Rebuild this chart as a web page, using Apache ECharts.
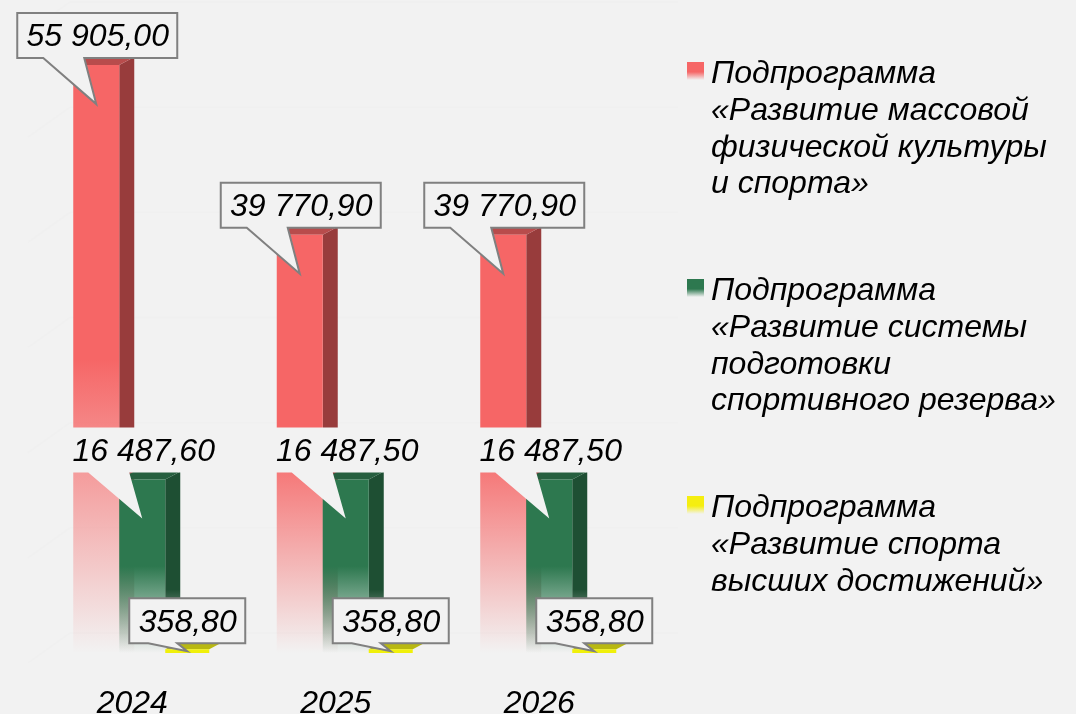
<!DOCTYPE html>
<html><head><meta charset="utf-8">
<style>html,body{margin:0;padding:0;background:#f2f2f2}#c{width:1076px;height:714px}</style>
<script src="https://cdn.jsdelivr.net/npm/echarts@6/dist/echarts.min.js"></script>
</head><body><div id="c"></div>
<script>
const categories = ['2024', '2025', '2026'];
const massSport = [55905.00, 39770.90, 39770.90];
const reserve = [16487.60, 16487.50, 16487.50];
const highSport = [358.80, 358.80, 358.80];
const gridTicks = [0, 10000, 20000, 30000, 40000, 50000, 60000];
const legendLines = [
  ['Подпрограмма', '«Развитие массовой', 'физической культуры', 'и спорта»'],
  ['Подпрограмма', '«Развитие системы', 'подготовки', 'спортивного резерва»'],
  ['Подпрограмма', '«Развитие спорта', 'высших достижений»']
];

const FONT = '"Liberation Sans", Arial, sans-serif';
const BG = '#f2f2f2';
const LH = 36.6;
const fmt = v => {
  const [a, b] = v.toFixed(2).split('.');
  return a.replace(/\B(?=(\d{3})+$)/g, ' ') + ',' + b;
};
const rgba = (h, a) => {
  const n = parseInt(h.slice(1), 16);
  return `rgba(${n >> 16},${(n >> 8) & 255},${n & 255},${a})`;
};
const fade = (h, start) => ({
  type: 'linear', x: 0, y: 0, x2: 0, y2: 1,
  colorStops: [{ offset: 0, color: rgba(h, 1) }, { offset: start, color: rgba(h, 1) }, { offset: 1, color: rgba(h, 0) }]
});

const STEP = 46, DX = 15, DY = 8;
function barSeries(name, values, k, look) {
  return {
    type: 'custom', name, coordinateSystem: 'cartesian2d', clip: false,
    encode: { x: 0, y: 1 }, z: 2 + k,
    itemStyle: { color: look.front },
    data: values.map((v, i) => [i, v]),
    renderItem(params, api) {
      const v = api.value(1);
      const cx = api.coord([api.value(0), 0])[0];
      const base = api.coord([0, 0])[1];
      const y = api.coord([0, v])[1];
      const x = cx - 59 + STEP * k;
      const W = look.width;
      const kids = [];
      if (look.fade) {
        kids.push({ type: 'polygon', shape: { points: [[x + W, y], [x + W + DX, y - DY], [x + W + DX, base], [x + W, base]] },
          style: { fill: fade(look.side, 0.65) } });
      }
      kids.push({ type: 'polygon', shape: { points: [[x, y], [x + W, y], [x + W + DX, y - DY], [x + DX, y - DY]] },
        style: { fill: look.top } });
      kids.push({ type: 'rect', shape: { x, y, width: W, height: base - y },
        style: { fill: look.fade ? fade(look.front, 0.5) : look.front } });
      const c = look.call;
      const t = y + c.top, b = y + c.bottom;
      const box = [[x + c.l, t], [x + c.r, t], [x + c.r, b], [x + c.p2, b], [x + c.tx, y + c.ty], [x + c.p1, b], [x + c.l, b]];
      kids.push({ type: 'polygon', shape: { points: box },
        style: { fill: BG, stroke: c.border ? '#808080' : null, lineWidth: c.border ? 2 : 0, lineJoin: 'miter' } });
      kids.push({ type: 'text', style: { x: x + (c.l + c.r) / 2 + 0.5, y: (t + b) / 2 + 2, text: fmt(v),
        font: `italic 32px ${FONT}`, fill: '#000', align: 'center', verticalAlign: 'middle' } });
      return { type: 'group', children: kids };
    }
  };
}

const looks = [
  { width: 46, front: '#f66666', side: '#983c3c', top: '#b84c4c', fade: true,
    call: { l: -56, r: 104, top: -52, bottom: -7, p1: -30, p2: 11, tx: 23, ty: 39, border: true } },
  { width: 46, front: '#2d784f', side: '#1e4f33', top: '#265f3f', fade: true,
    call: { l: -56, r: 104, top: -52, bottom: -7, p1: -31, p2: 10, tx: 23, ty: 39, border: false } },
  { width: 44, front: '#f0f00a', side: '#a8a810', top: '#b8b812', fade: false,
    call: { l: -36, r: 80, top: -51, bottom: -6, p1: -17, p2: 12, tx: 22, ty: 2, border: true } }
];
const names = legendLines.map(l => l.join('\n'));
const legendColors = ['#f66666', '#2d784f', '#f5ee10'];
const legendTops = [56.2, 273.2, 490.2];

const legends = names.map((n, i) => {
  const H = legendLines[i].length * LH;
  const o = 5.8, S = 18;
  return {
    left: 687, top: legendTops[i], orient: 'vertical', padding: 0, selectedMode: false,
    itemWidth: 19, itemHeight: H,
    textStyle: { fontFamily: FONT, fontStyle: 'italic', fontSize: 32, lineHeight: LH, color: '#000' },
    data: [{
      name: n,
      icon: `path://M0,${o}H17V${o + S}H0Z M0,0H0.01V0.01H0Z M19,${H}H18.99V${H - 0.01}H19Z`,
      itemStyle: {
        color: {
          type: 'linear', x: 0, y: 0, x2: 0, y2: 1,
          colorStops: [
            { offset: 0, color: rgba(legendColors[i], 1) },
            { offset: (o + S * 0.55) / H, color: rgba(legendColors[i], 1) },
            { offset: (o + S) / H, color: rgba(legendColors[i], 0) },
            { offset: 1, color: rgba(legendColors[i], 0) }
          ]
        }
      }
    }]
  };
});

const chart = echarts.init(document.getElementById('c'));
chart.setOption({
  animation: false,
  backgroundColor: BG,
  grid: { left: 30.5, top: 22, width: 610.5, height: 631, outerBoundsMode: 'none' },
  legend: legends,
  xAxis: { type: 'category', data: categories, axisLine: { show: false }, axisTick: { show: false },
    axisLabel: { margin: 35, fontFamily: FONT, fontStyle: 'italic', fontSize: 32, color: '#000' } },
  yAxis: { type: 'value', min: 0, max: 60000, interval: 10000, show: false },
  series: [
    {
      type: 'custom', name: 'grid', coordinateSystem: 'cartesian2d', clip: false, silent: true, z: 1,
      encode: { x: 0, y: 1 },
      data: gridTicks.map(v => [0, v]),
      renderItem(params, api) {
        const y = api.coord([0, api.value(1)])[1];
        return { type: 'polyline', shape: { points: [[28, y + 10], [70, y - 20], [678, y - 20]] },
          style: { stroke: '#f0f0f0', lineWidth: 1.5, fill: null } };
      }
    },
    barSeries(names[0], massSport, 0, looks[0]),
    barSeries(names[1], reserve, 1, looks[1]),
    barSeries(names[2], highSport, 2, looks[2])
  ]
});
</script></body></html>
